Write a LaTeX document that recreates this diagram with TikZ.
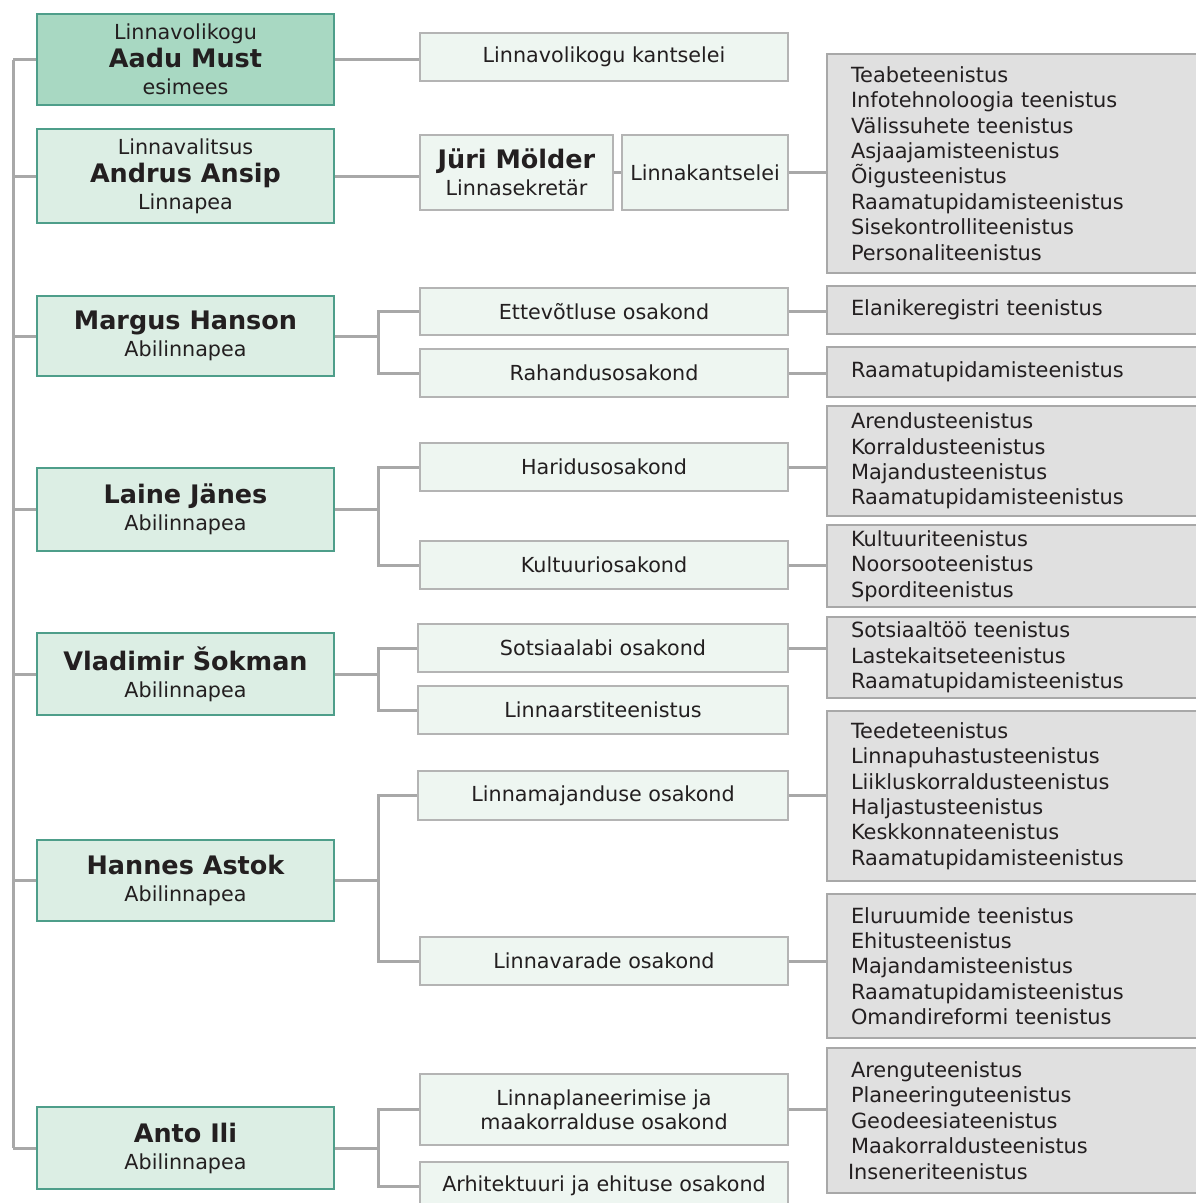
\documentclass[tikz,border=0pt]{standalone}
\usepackage{fontspec}
\setmainfont{DejaVu Sans}
\usetikzlibrary{calc}
\definecolor{inkdark}{RGB}{35,31,32}
\definecolor{chieffill}{RGB}{168,216,194}
\definecolor{headfill}{RGB}{220,238,228}
\definecolor{tealedge}{RGB}{78,158,138}
\definecolor{deptfill}{RGB}{238,246,241}
\definecolor{deptedge}{RGB}{180,180,180}
\definecolor{unitfill}{RGB}{224,224,224}
\definecolor{unitedge}{RGB}{168,168,168}
\definecolor{linkgray}{RGB}{168,168,168}
\newcommand{\rolefont}{\fontsize{20.7}{27}\selectfont}
\newcommand{\namefont}{\fontsize{25.5}{28}\selectfont\bfseries}
\newcommand{\unitfont}{\fontsize{20.9}{25.4}\selectfont}
\tikzset{
    headbox/.style={draw=tealedge,fill=headfill,line width=1.5pt,inner sep=0pt,
        minimum width=297pt,align=center,text=inkdark,font=\rolefont},
    chiefbox/.style={headbox,fill=chieffill},
    deptbox/.style={draw=deptedge,fill=deptfill,line width=1.5pt,inner sep=0pt,
        minimum width=368pt,minimum height=48pt,align=center,text=inkdark,font=\rolefont},
    unitbox/.style={draw=unitedge,fill=unitfill,line width=1.5pt,inner ysep=0pt,
        inner xsep=24pt,text width=335pt,align=left,text=inkdark,font=\unitfont},
    link/.style={draw=linkgray,line width=3pt}
}

\begin{document}
\begin{tikzpicture}[x=1pt,y=-1pt]
    \useasboundingbox (0,0) rectangle (1196,1203);
    % Left column: council and city government
    \node[chiefbox,minimum height=91pt] (must) at (185.5,59.5)
        {Linnavolikogu\\[1pt]{\namefont Aadu Must}\\esimees};
    \node[headbox,minimum height=94pt] (ansip) at (185.5,176)
        {Linnavalitsus\\[1pt]{\namefont Andrus Ansip}\\Linnapea};
    \node[headbox,minimum height=80pt] (hanson) at (185.5,336)
        {{\namefont Margus Hanson}\\Abilinnapea};
    \node[headbox,minimum height=83pt] (janes) at (185.5,509.5)
        {{\namefont Laine Jänes}\\Abilinnapea};
    \node[headbox,minimum height=82pt] (sokman) at (185.5,674)
        {{\namefont Vladimir Šokman}\\Abilinnapea};
    \node[headbox,minimum height=81pt] (astok) at (185.5,880.5)
        {{\namefont Hannes Astok}\\Abilinnapea};
    \node[headbox,minimum height=82pt] (ili) at (185.5,1148)
        {{\namefont Anto Ili}\\Abilinnapea};

    % Middle column: departments
    \node[deptbox] (volkants) at (604,57) {Linnavolikogu kantselei};
    \node[deptbox,minimum width=193pt,minimum height=75pt] (molder) at (516.5,172.5)
        {{\namefont Jüri Mölder}\\Linnasekretär};
    \node[deptbox,minimum width=166pt,minimum height=75pt] (kants) at (705,172.5)
        {Linnakantselei};
    \node[deptbox,minimum height=47pt] (ettev) at (604,311.5) {Ettevõtluse osakond};
    \node[deptbox] (rahand) at (604,373) {Rahandusosakond};
    \node[deptbox] (harid) at (604,467) {Haridusosakond};
    \node[deptbox] (kultuur) at (604,565) {Kultuuriosakond};
    \node[deptbox,minimum width=370pt] (sotsiaal) at (603,648) {Sotsiaalabi osakond};
    \node[deptbox,minimum width=370pt] (arsti) at (603,710) {Linnaarstiteenistus};
    \node[deptbox,minimum width=370pt,minimum height=49pt] (majand) at (603,795.5)
        {Linnamajanduse osakond};
    \node[deptbox] (varad) at (604,961) {Linnavarade osakond};
    \node[deptbox,minimum height=71pt,font=\fontsize{20.7}{24}\selectfont] (planeer) at (604,1109.5)
        {Linnaplaneerimise ja\\maakorralduse osakond};
    \node[deptbox] (arhit) at (604,1186) {Arhitektuuri ja ehituse osakond};

    % Right column: services
    \node[unitbox,minimum height=219pt] (u1) at (1018.5,163.5)
        {Teabeteenistus\\Infotehnoloogia teenistus\\Välissuhete teenistus\\Asjaajamisteenistus\\Õigusteenistus\\Raamatupidamisteenistus\\Sisekontrolliteenistus\\Personaliteenistus};
    \node[unitbox,minimum height=48pt] (u2) at (1018.5,310) {Elanikeregistri teenistus};
    \node[unitbox,minimum height=50pt] (u3) at (1018.5,372) {Raamatupidamisteenistus};
    \node[unitbox,minimum height=110pt] (u4) at (1018.5,461)
        {Arendusteenistus\\Korraldusteenistus\\Majandusteenistus\\Raamatupidamisteenistus};
    \node[unitbox,minimum height=82pt] (u5) at (1018.5,566)
        {Kultuuriteenistus\\Noorsooteenistus\\Sporditeenistus};
    \node[unitbox,minimum height=81pt] (u6) at (1018.5,657.5)
        {Sotsiaaltöö teenistus\\Lastekaitseteenistus\\Raamatupidamisteenistus};
    \node[unitbox,minimum height=170pt] (u7) at (1018.5,796)
        {Teedeteenistus\\Linnapuhastusteenistus\\Liikluskorraldusteenistus\\Haljastusteenistus\\Keskkonnateenistus\\Raamatupidamisteenistus};
    \node[unitbox,minimum height=144pt] (u8) at (1018.5,966)
        {Eluruumide teenistus\\Ehitusteenistus\\Majandamisteenistus\\Raamatupidamisteenistus\\Omandireformi teenistus};
    \node[unitbox,minimum height=145pt] (u9) at (1018.5,1120.5)
        {Arenguteenistus\\Planeeringuteenistus\\Geodeesiateenistus\\Maakorraldusteenistus\\\hspace*{-3pt}Inseneriteenistus};

    % Trunk on the left
    \coordinate (trunk) at (13,0);
    \draw[link] (must.west -| trunk) -- (ili.west -| trunk);
    \foreach \n in {must,ansip,hanson,janes,sokman,astok,ili}
        \draw[link] (\n.west) -- (\n.west -| trunk);

    % Single links
    \draw[link] (must.east) -- (must.east -| volkants.west);
    \draw[link] (ansip.east) -- (ansip.east -| molder.west);
    \draw[link] (molder.east) -- (kants.west);
    \draw[link] (kants.east) -- (kants.east -| u1.west);

    % Branch buses
    \coordinate (bus) at (378,0);
    \foreach \h/\a/\b in {hanson/ettev/rahand,janes/harid/kultuur,sokman/sotsiaal/arsti,
                          astok/majand/varad,ili/planeer/arhit}{
        \draw[link] (\h.east) -- (\h.east -| bus);
        \draw[link] (\a.west) -- (\a.west -| bus) -- (\b.west -| bus) -- (\b.west);
    }

    % Department to service links
    \foreach \d/\u in {ettev/u2,rahand/u3,harid/u4,kultuur/u5,sotsiaal/u6,
                       majand/u7,varad/u8,planeer/u9}
        \draw[link] (\d.east) -- (\d.east -| \u.west);
\end{tikzpicture}
\end{document}
